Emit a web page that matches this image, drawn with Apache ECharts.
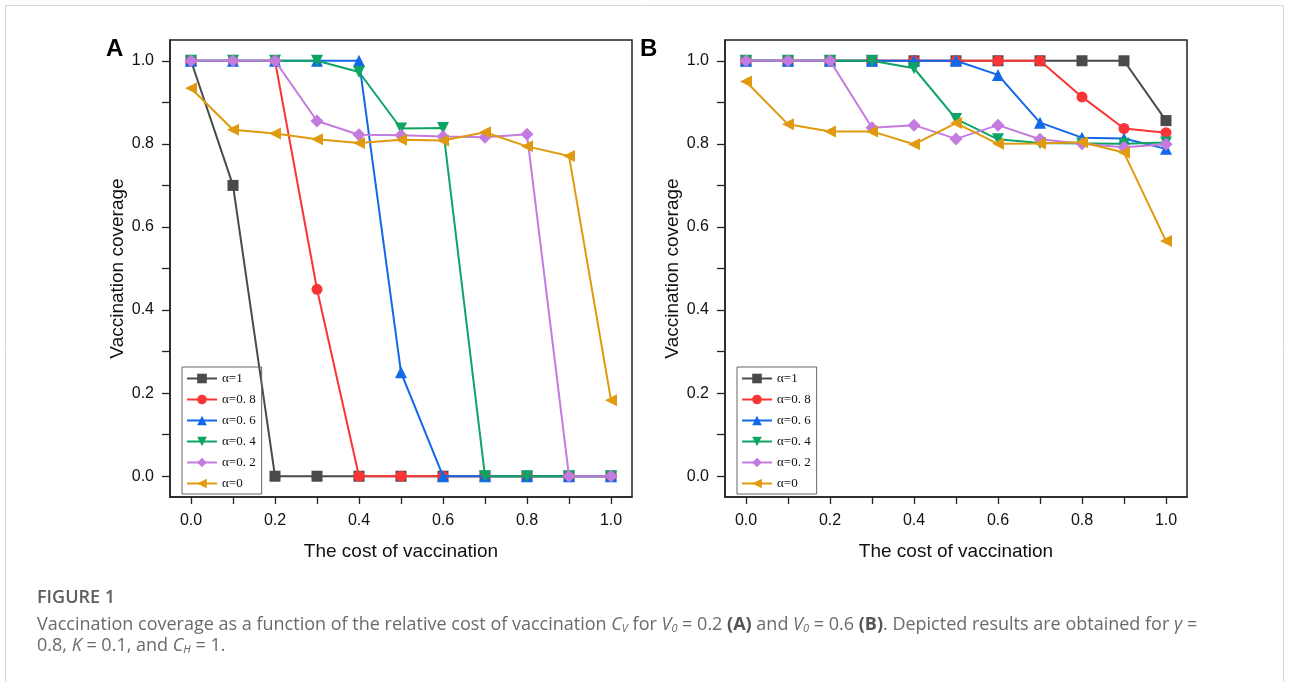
<!DOCTYPE html>
<html><head><meta charset="utf-8">
<script src="https://cdn.jsdelivr.net/npm/echarts@6/dist/echarts.min.js"></script>
<style>html,body{margin:0;padding:0;background:#fff}#c{width:1290px;height:682px}</style>
</head><body><div id="c"></div>
<script>
const costs = [0, 0.1, 0.2, 0.3, 0.4, 0.5, 0.6, 0.7, 0.8, 0.9, 1.0];
const seriesNames = ['α=1', 'α=0. 8', 'α=0. 6', 'α=0. 4', 'α=0. 2', 'α=0'];
// Panel A (V0 = 0.2)
const A_a1  = [1, 0.70, 0, 0, 0, 0, 0, 0, 0, 0, 0];
const A_a08 = [1, 1, 1, 0.45, 0, 0, 0, 0, 0, 0, 0];
const A_a06 = [1, 1, 1, 1, 1, 0.25, 0, 0, 0, 0, 0];
const A_a04 = [1, 1, 1, 1, 0.973, 0.837, 0.838, 0, 0, 0, 0];
const A_a02 = [1, 1, 1, 0.855, 0.822, 0.821, 0.818, 0.816, 0.823, 0, 0];
const A_a0  = [0.934, 0.834, 0.825, 0.811, 0.802, 0.81, 0.808, 0.828, 0.794, 0.771, 0.183];
// Panel B (V0 = 0.6)
const B_a1  = [1, 1, 1, 1, 1, 1, 1, 1, 1, 1, 0.856];
const B_a08 = [1, 1, 1, 1, 1, 1, 1, 1, 0.913, 0.837, 0.827];
const B_a06 = [1, 1, 1, 1, 1, 1, 0.966, 0.851, 0.815, 0.813, 0.788];
const B_a04 = [1, 1, 1, 1, 0.982, 0.86, 0.811, 0.802, 0.801, 0.8, 0.803];
const B_a02 = [1, 1, 1, 0.839, 0.845, 0.812, 0.845, 0.811, 0.8, 0.792, 0.799];
const B_a0  = [0.95, 0.847, 0.83, 0.83, 0.799, 0.85, 0.8, 0.801, 0.804, 0.779, 0.566];
const xTickValues = [0, 0.1, 0.2, 0.3, 0.4, 0.5, 0.6, 0.7, 0.8, 0.9, 1.0];
const xLabelValues = [0, 0.2, 0.4, 0.6, 0.8, 1.0];
const yTickValues = [0, 0.1, 0.2, 0.3, 0.4, 0.5, 0.6, 0.7, 0.8, 0.9, 1.0];
const yLabelValues = [0, 0.2, 0.4, 0.6, 0.8, 1.0];

const colors = ['#4a4a4a', '#fb3535', '#1168e8', '#0ea464', '#c47be0', '#e09a10'];
const symbols = ['rect', 'circle', 'triangle', 'triangle', 'diamond', 'triangle'];
const rotates = [0, 0, 0, 180, 0, 90];
const sizes = [11, 11, 12, 12, 13, 12];

const panelA = [A_a1, A_a08, A_a06, A_a04, A_a02, A_a0];
const panelB = [B_a1, B_a08, B_a06, B_a04, B_a02, B_a0];

const axisFont = 'Liberation Sans, Arial, sans-serif';
function xAxis(gi) {
  return {
    type: 'value', gridIndex: gi, min: -0.05, max: 1.05,
    name: 'The cost of vaccination', nameLocation: 'middle', nameGap: 45,
    nameTextStyle: {fontSize: 19, color: '#111', fontFamily: axisFont},
    axisLine: {show: true, onZero: false, lineStyle: {color: '#222', width: 1.5}},
    axisTick: {show: true, inside: false, length: 7, customValues: xTickValues, lineStyle: {color: '#222', width: 1.3}},
    axisLabel: {customValues: xLabelValues, margin: 16, fontSize: 16, color: '#111', fontFamily: axisFont,
      formatter: v => v.toFixed(1)},
    splitLine: {show: false}
  };
}
function yAxis(gi) {
  return {
    type: 'value', gridIndex: gi, min: -0.05, max: 1.05,
    name: 'Vaccination coverage', nameLocation: 'middle', nameGap: 43,
    nameTextStyle: {fontSize: 19, color: '#111', fontFamily: axisFont},
    axisLine: {show: true, onZero: false, lineStyle: {color: '#222', width: 1.5}},
    axisTick: {show: true, inside: false, length: 8, customValues: yTickValues, lineStyle: {color: '#222', width: 1.3}},
    axisLabel: {customValues: yLabelValues, margin: 16, fontSize: 16, color: '#111', fontFamily: axisFont,
      formatter: v => v.toFixed(1)},
    splitLine: {show: false}
  };
}
const series = [];
[panelA, panelB].forEach((panel, gi) => {
  panel.forEach((vals, i) => {
    series.push({
      type: 'line', name: seriesNames[i], xAxisIndex: gi, yAxisIndex: gi,
      data: costs.map((c, k) => [c, vals[k]]),
      symbol: symbols[i], symbolRotate: rotates[i], symbolSize: sizes[i],
      showAllSymbol: true,
      lineStyle: {color: colors[i], width: 2},
      itemStyle: {color: colors[i], opacity: 1},
      emphasis: {disabled: true},
      animation: false, z: 2 + i
    });
  });
});
function legend(left) {
  return {
    data: seriesNames, orient: 'vertical', left: left, top: 367,
    itemWidth: 30, itemHeight: 12, itemGap: 8,
    padding: [5, 6, 4, 4], borderColor: '#666', borderWidth: 1,
    textStyle: {fontFamily: 'Liberation Serif, DejaVu Serif, serif', fontSize: 13, color: '#111', lineHeight: 12},
    selectedMode: false
  };
}
const chart = echarts.init(document.getElementById('c'), null, {renderer: 'canvas'});
chart.setOption({
  animation: false,
  backgroundColor: '#fff',
  grid: [
    {left: 170, top: 40, width: 462, height: 457, show: true, borderColor: '#222', borderWidth: 1.5, backgroundColor: 'transparent'},
    {left: 725, top: 40, width: 462, height: 457, show: true, borderColor: '#222', borderWidth: 1.5, backgroundColor: 'transparent'}
  ],
  xAxis: [xAxis(0), xAxis(1)],
  yAxis: [yAxis(0), yAxis(1)],
  legend: [legend(182), legend(737)],
  series: series,
  graphic: [
    {type: 'rect', shape: {x: 5.5, y: 5.5, width: 1278, height: 700}, style: {fill: 'none', stroke: '#d8d8d8', lineWidth: 1}, silent: true},
    {type: 'text', left: 106, top: 37, style: {text: 'A', font: 'bold 24px Liberation Sans, Arial, sans-serif', fill: '#000'}},
    {type: 'text', left: 640, top: 37, style: {text: 'B', font: 'bold 24px Liberation Sans, Arial, sans-serif', fill: '#000'}},
    {type: 'text', left: 37, top: 589, style: {text: 'FIGURE 1', font: '600 18px Open Sans, sans-serif', fill: '#5e5e5e'}},
    {type: 'text', left: 37, top: 614, style: {
      text: 'Vaccination coverage as a function of the relative cost of vaccination {i|C}{s|V} for {i|V}{s|0} = 0.2 {b|(A)} and {i|V}{s|0} = 0.6 {b|(B)}. Depicted results are obtained for {i|γ} =\n0.8, {i|K} = 0.1, and {i|C}{s|H} = 1.',
      fill: '#6a6a6a', fontFamily: 'Open Sans, sans-serif', fontSize: 18, lineHeight: 21,
      rich: {
        i: {fontStyle: 'italic', fontFamily: 'Open Sans, sans-serif', fontSize: 18, fill: '#6a6a6a', lineHeight: 21},
        s: {fontStyle: 'italic', fontFamily: 'Open Sans, sans-serif', fontSize: 11, fill: '#6a6a6a', padding: [8, 0, 0, 0], lineHeight: 21},
        b: {fontWeight: 'bold', fontFamily: 'Open Sans, sans-serif', fontSize: 18, fill: '#555', lineHeight: 21}
      }
    }}
  ]
});
</script></body></html>
